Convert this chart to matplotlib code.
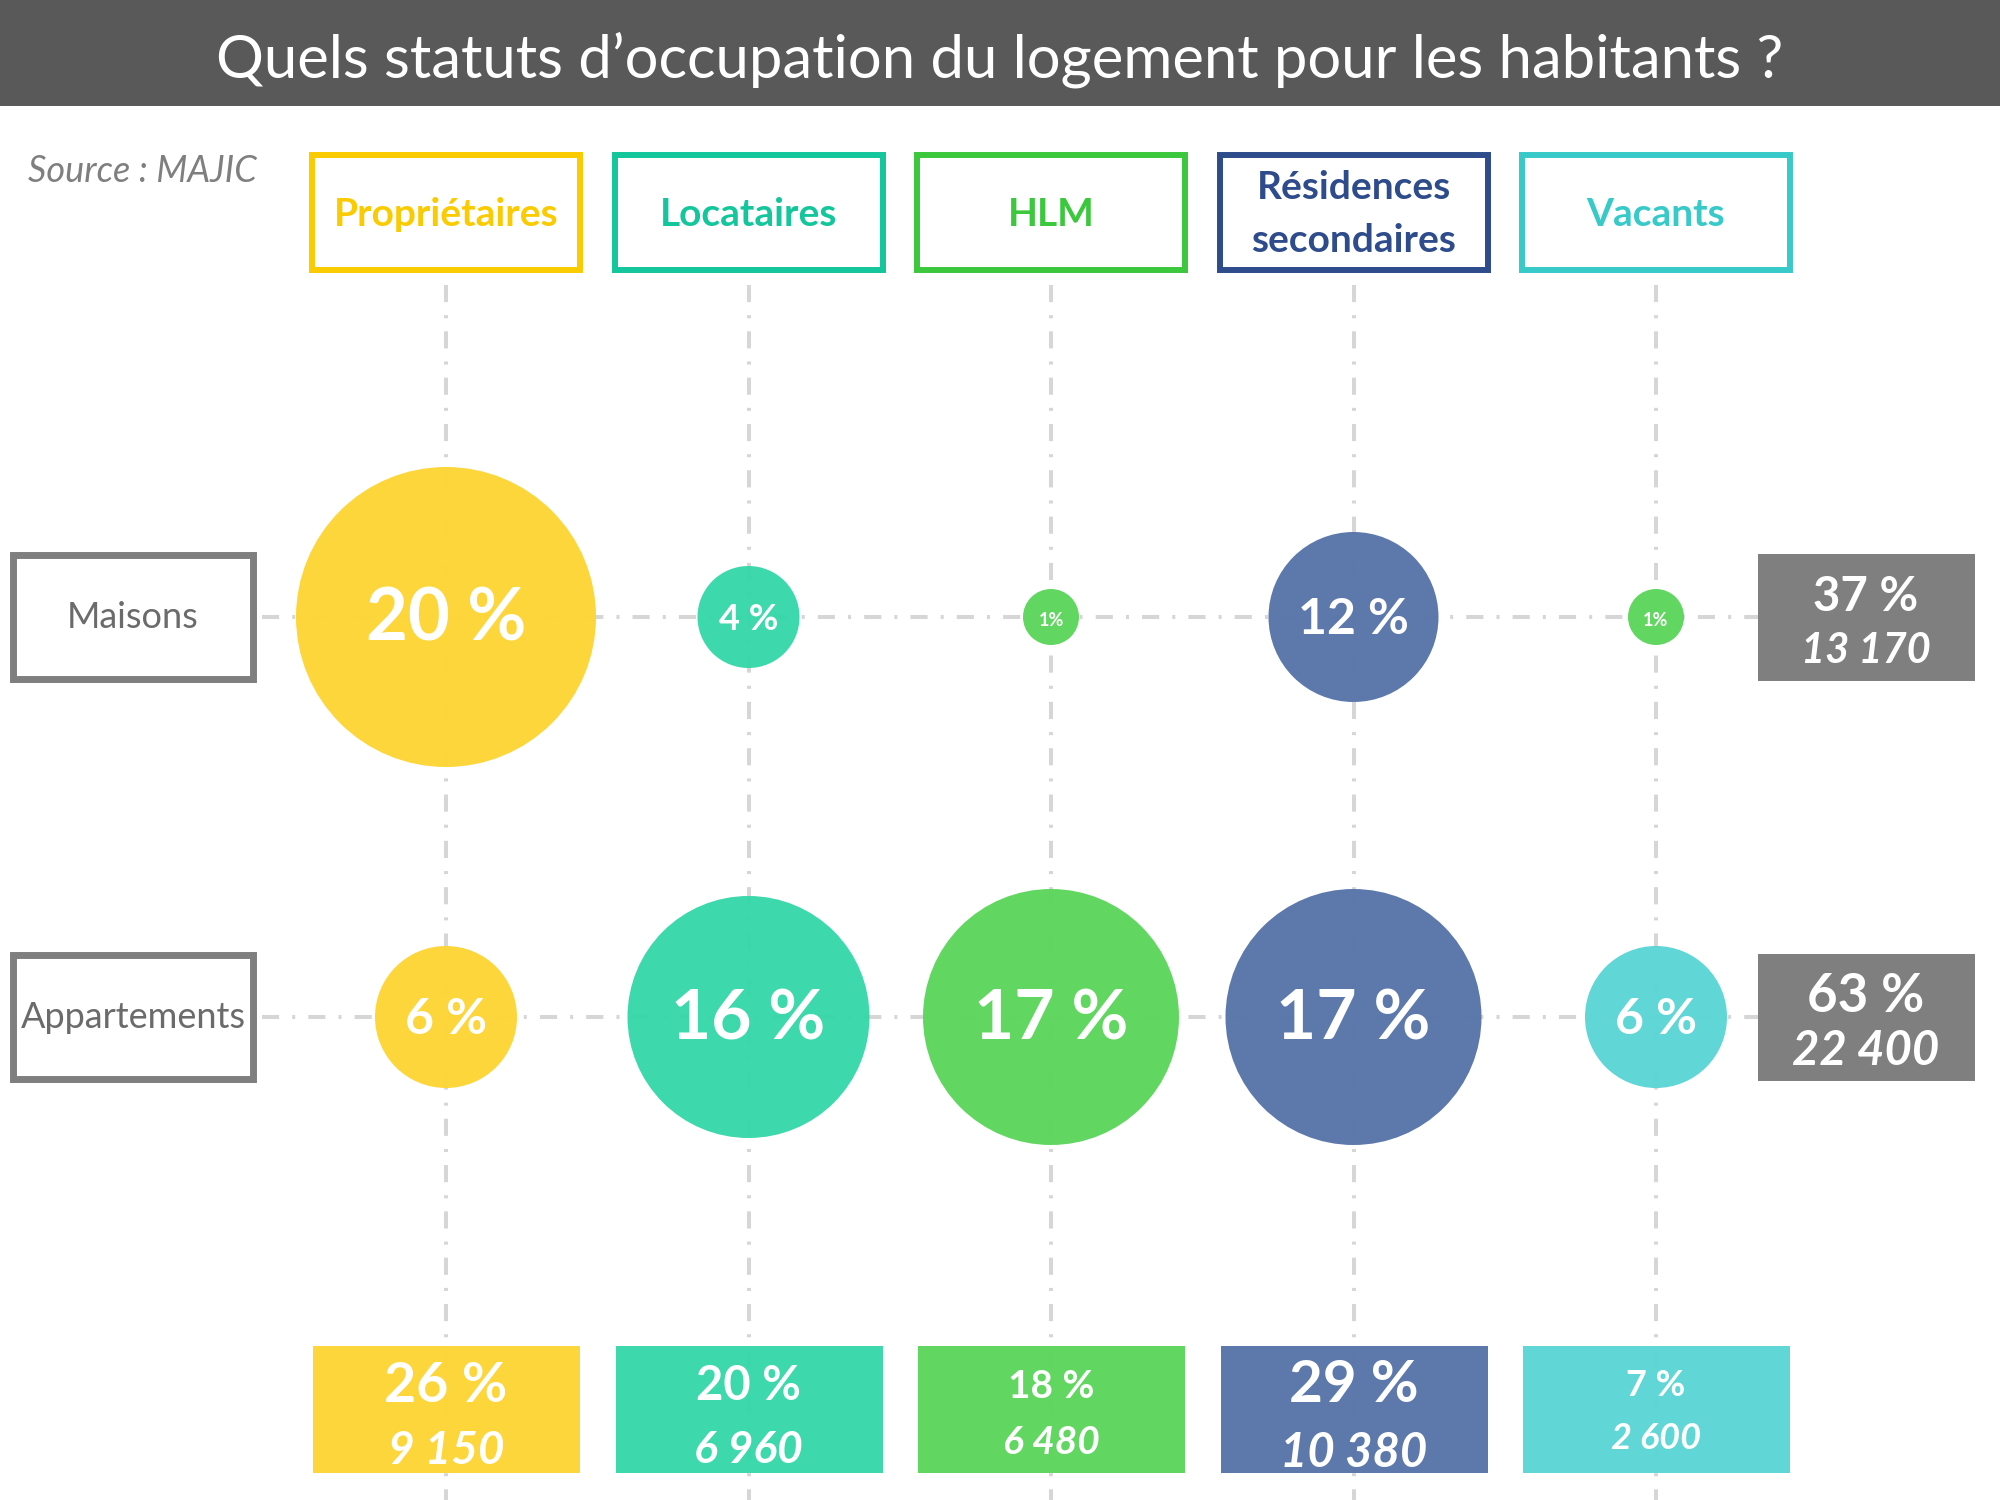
import matplotlib
matplotlib.use("Agg")
import matplotlib.pyplot as plt
from matplotlib.patches import Rectangle, Circle

plt.rcParams['font.family'] = ['Lato', 'DejaVu Sans']

# data
categories = ["Propriétaires", "Locataires", "HLM", "Résidences\nsecondaires", "Vacants"]
row_labels = ["Maisons", "Appartements"]
maisons_pct = [20, 4, 1, 12, 1]
appart_pct = [6, 16, 17, 17, 6]
col_pct = [26, 20, 18, 29, 7]
col_count = ["9 150", "6 960", "6 480", "10 380", "2 600"]
row_pct = [37, 63]
row_count = ["13 170", "22 400"]

# styles
edge_colors = ["#F9CB00", "#14C69B", "#3CC83C", "#2E4C8C", "#38C9C9"]
fill_colors = ["#FDD535", "#36D7A9", "#5CD65C", "#5875AA", "#5BD5D5"]
maisons_colors = ["#FDD535", "#36D7A9", "#5CD65C", "#5875AA", "#5CD65C"]
grey_box = "#7F7F7F"
line_col = "#D6D6D6"
maisons_r = [150, 51, 28, 85, 28]
appart_r = [71, 121, 128, 128, 71]
maisons_fs = [52, 26, 13, 36, 13]
appart_fs = [36, 50, 50, 50, 36]
col_pct_fs = [40, 34, 28, 42, 26]
col_count_fs = [33, 32, 28, 34, 26]

col_x = [446 + 302.5 * i for i in range(len(categories))]
row_y = [617, 1017]
dash = (0, (4.25, 3.25, 0.75, 3.25))

fig = plt.figure(figsize=(20, 15), dpi=100)
ax = fig.add_axes([0, 0, 1, 1])
ax.set_xlim(0, 2000)
ax.set_ylim(1500, 0)
ax.axis("off")

# title bar
ax.add_patch(Rectangle((0, 0), 2000, 106, facecolor="#595959", edgecolor="none"))
ax.text(1000, 60, "Quels statuts d\u2019occupation du logement pour les habitants ?",
        color="white", fontsize=43, ha="center", va="center")
ax.text(28, 172, "Source : MAJIC", color="#7F7F7F", fontsize=26, style="italic",
        ha="left", va="center")

# grid lines
for x in col_x:
    ax.plot([x, x], [285, 1500], color=line_col, lw=2.9, linestyle=dash, zorder=1)
for y in row_y:
    ax.plot([262, 1758], [y, y], color=line_col, lw=2.9, linestyle=dash, zorder=1)

# column headers and bottom totals
for i, cat in enumerate(categories):
    x = col_x[i]
    ax.add_patch(Rectangle((x - 134, 155), 268, 115, facecolor="white",
                           edgecolor=edge_colors[i], lw=4.3, zorder=3))
    ax.text(x, 214, cat, color=edge_colors[i], fontsize=28, fontweight="bold",
            ha="center", va="center", linespacing=1.65, zorder=4)

    ax.add_patch(Rectangle((x - 133, 1346), 267, 127, facecolor=fill_colors[i],
                           edgecolor="none", alpha=0.97, zorder=2))
    ax.text(x, 1386, f"{col_pct[i]} %", color="white", fontsize=col_pct_fs[i],
            fontweight="bold", ha="center", va="center", zorder=4)
    ax.text(x, 1392 + col_count_fs[i] * 1.8, col_count[i], color="white",
            fontsize=col_count_fs[i], fontweight="bold", style="italic",
            ha="center", va="center", zorder=4)

# bubbles
for j, (vals, radii, sizes, cols) in enumerate([(maisons_pct, maisons_r, maisons_fs, maisons_colors),
                                                 (appart_pct, appart_r, appart_fs, fill_colors)]):
    for i, v in enumerate(vals):
        ax.add_patch(Circle((col_x[i], row_y[j]), radii[i], facecolor=cols[i],
                            edgecolor="none", alpha=0.97, zorder=2))
        label = f"{v}%" if v < 2 else f"{v} %"
        ax.text(col_x[i], row_y[j] + 3, label, color="white", fontsize=sizes[i],
                fontweight="bold", ha="center", va="center", zorder=4)

# row labels and row totals
for j, lab in enumerate(row_labels):
    y = row_y[j]
    ax.add_patch(Rectangle((13, y - 62), 240, 124, facecolor="white",
                           edgecolor=grey_box, lw=5, zorder=3))
    ax.text(133, y, lab, color="#6B6B6B", fontsize=26, ha="center", va="center", zorder=4)

    ax.add_patch(Rectangle((1758, y - 63), 217, 127, facecolor=grey_box,
                           edgecolor="none", zorder=3))
    ax.text(1866, y - 20, f"{row_pct[j]} %", color="white", fontsize=34 + 4 * j,
            fontweight="bold", ha="center", va="center", zorder=4)
    ax.text(1866, y + 34, row_count[j], color="white", fontsize=30 + 4 * j,
            fontweight="bold", style="italic", ha="center", va="center", zorder=4)

fig.savefig("out.png", dpi=100)
